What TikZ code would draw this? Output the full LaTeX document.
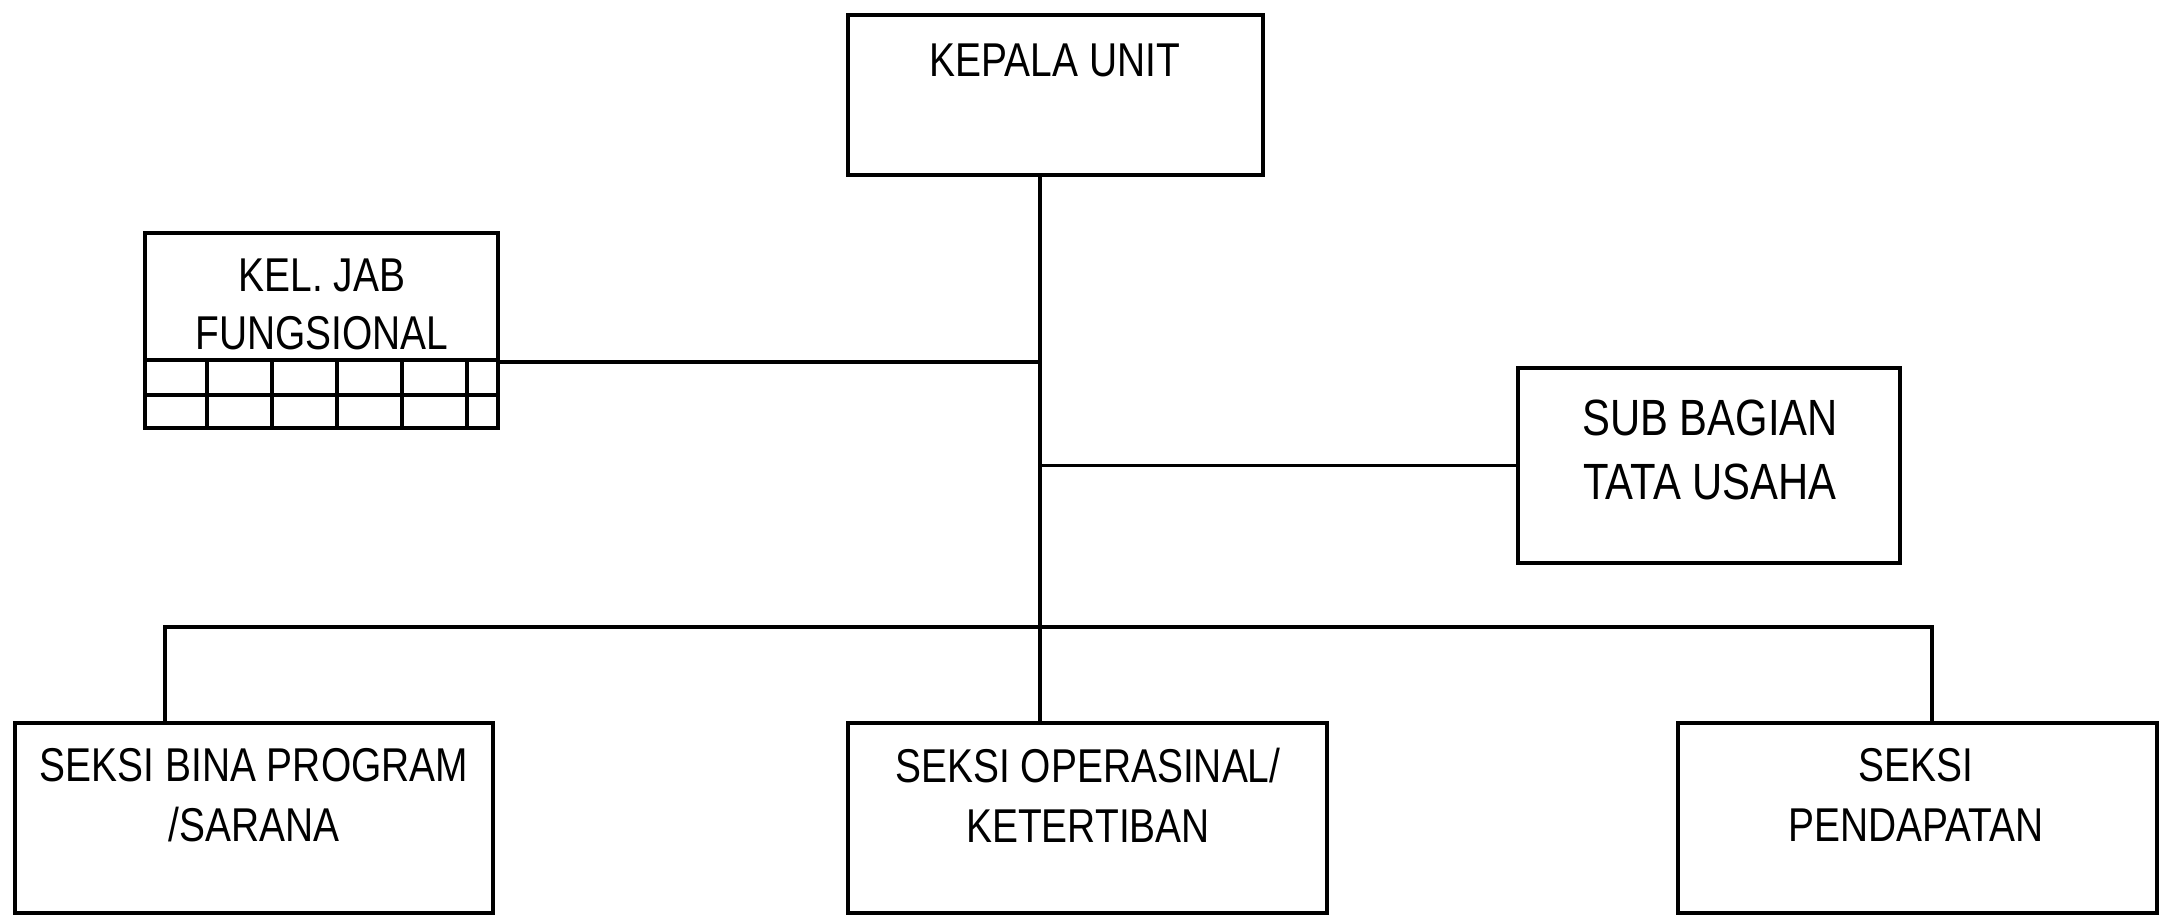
\documentclass[tikz,border=0pt]{standalone}
\usepackage{fontspec}
\setmainfont[FakeStretch=0.82]{Liberation Sans}
\tikzset{
  unitbox/.style={draw, line width=0.9pt, inner sep=0pt},
  unittxt/.style={align=center, inner sep=0pt, font=\fontsize{13.5}{17}\selectfont},
  link/.style={line width=0.9pt}
}
\begin{document}
\begin{tikzpicture}
\useasboundingbox (0,0) rectangle (21.65,-9.16);
% boxes
\node[unitbox, minimum width=4.15cm, minimum height=1.60cm] (kepala) at (10.555,-0.95) {};
\node[unitbox, minimum width=3.53cm, minimum height=1.95cm] (keljab) at (3.215,-3.305) {};
\node[unitbox, minimum width=3.82cm, minimum height=1.95cm] (subbag) at (17.09,-4.655) {};
\node[unitbox, minimum width=4.78cm, minimum height=1.90cm] (bina) at (2.54,-8.18) {};
\node[unitbox, minimum width=4.79cm, minimum height=1.90cm] (opera) at (10.875,-8.18) {};
\node[unitbox, minimum width=4.79cm, minimum height=1.90cm] (penda) at (19.175,-8.18) {};

% texts
\node[unittxt] (kepalatxt) at (10.55,-0.60) {KEPALA UNIT};
\node[unittxt, font=\fontsize{13.5}{16.5}\selectfont] (keljabtxt) at (3.22,-3.04) {KEL. JAB\\FUNGSIONAL};
\node[unittxt, font=\fontsize{14.5}{18}\selectfont] (subbagtxt) at (17.10,-4.50) {SUB BAGIAN\\TATA USAHA};
\node[unittxt] (binatxt) at (2.54,-7.95) {SEKSI BINA PROGRAM\\/SARANA};
\node[unittxt] (operatxt) at (10.88,-7.95) {SEKSI OPERASINAL/\\KETERTIBAN};
\node[unittxt] (pendatxt) at (19.16,-7.95) {SEKSI\\PENDAPATAN};

% grid under KEL. JAB
\draw[link] (1.45,-3.60) -- (4.98,-3.60);
\draw[link] (1.45,-3.95) -- (4.98,-3.95);
\foreach \x in {2.07,2.72,3.37,4.02,4.67}
  \draw[link] (\x,-3.60) -- (\x,-4.28);

% connectors
\coordinate (spine) at (10.40,-6.27);
\coordinate (jabjoin) at (4.98,-3.62);
\coordinate (binadrop) at (1.65,-6.27);
\coordinate (pendadrop) at (19.32,-6.27);
\draw[link] (spine |- kepala.south) -- (spine |- opera.north);
\draw[link] (jabjoin) -- (jabjoin -| spine);
\draw[link] (subbag.west) -- (subbag.west -| spine);
\draw[link] (binadrop |- bina.north) -- (binadrop) -- (pendadrop) -- (pendadrop |- penda.north);
\end{tikzpicture}
\end{document}
